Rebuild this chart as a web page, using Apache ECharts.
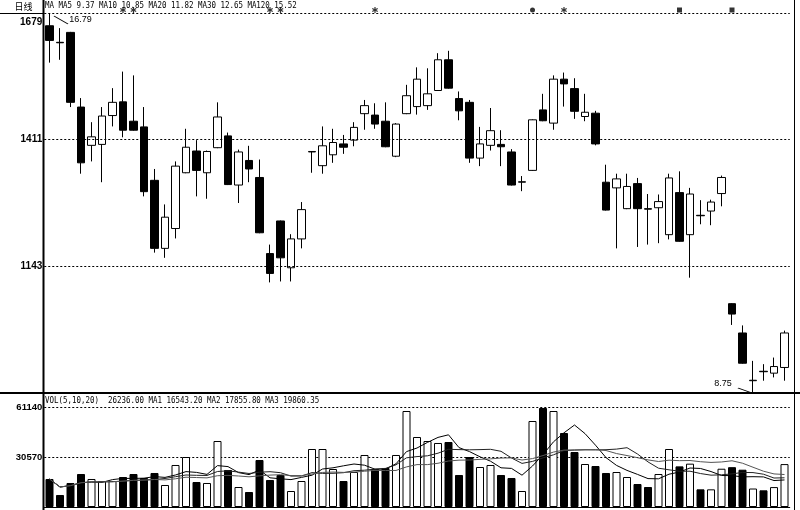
<!DOCTYPE html>
<html><head><meta charset="utf-8">
<script src="https://cdn.jsdelivr.net/npm/echarts/dist/echarts.min.js"></script>
<style>html,body{margin:0;padding:0;background:#fff}#c{width:800px;height:510px}</style>
</head><body><div id="c"></div>
<script>
// ---- data ----
const opens  = [16.52,16.17,16.38,14.80,13.99,14.01,14.62,14.91,14.50,14.38,13.25,11.81,12.23,13.41,13.87,13.41,13.94,14.19,13.15,13.67,13.31,11.70,12.39,11.40,12.01,13.85,13.56,13.79,14.02,14.10,14.66,14.63,14.50,13.76,14.66,14.81,14.83,15.15,15.80,14.98,14.90,13.72,13.99,14.01,13.85,13.21,13.46,14.74,14.46,15.39,15.19,14.60,14.67,13.21,13.09,12.65,13.18,12.65,12.67,12.10,12.99,12.10,12.51,12.60,12.97,10.64,10.02,9.01,9.21,9.17,9.29];
const closes = [16.21,16.16,14.90,13.62,14.17,14.61,14.90,14.31,14.31,13.01,11.81,12.47,13.55,13.95,13.46,13.86,14.59,13.16,13.85,13.49,12.14,11.28,11.61,12.01,12.63,13.86,13.98,14.05,13.95,14.37,14.83,14.44,13.96,14.44,15.04,15.39,15.08,15.80,15.20,14.72,13.72,14.02,14.30,13.96,13.15,13.22,14.53,14.51,15.39,15.29,14.71,14.69,14.02,12.62,13.28,13.12,12.65,12.64,12.80,13.30,11.96,12.96,12.50,12.79,13.31,10.42,9.38,9.02,9.20,9.31,10.02];
const lows   = [15.74,15.80,14.80,13.39,13.65,13.21,14.39,14.16,14.30,12.91,11.72,11.61,12.02,13.40,12.91,12.86,13.93,13.15,12.77,13.21,12.13,11.09,11.11,11.11,11.81,13.41,13.39,13.62,13.81,13.97,14.32,14.34,13.95,13.74,14.65,14.64,14.74,15.14,15.19,14.52,13.62,13.55,13.88,13.55,13.14,13.02,13.45,14.50,14.32,14.81,14.55,14.50,13.99,12.61,11.81,12.64,11.84,11.89,11.92,12.00,11.95,11.19,12.32,12.30,12.70,10.19,9.37,8.75,9.01,9.08,9.01];
const highs  = [16.79,16.47,16.39,14.99,14.48,14.80,15.20,15.55,15.47,14.80,13.49,12.74,13.65,14.34,14.10,13.88,14.90,14.26,13.90,13.98,13.69,11.89,12.40,12.11,12.79,13.87,14.39,14.34,14.21,14.48,14.95,14.88,14.90,14.46,15.27,15.64,15.62,15.94,15.99,15.13,14.95,14.38,14.78,14.31,13.91,13.34,14.54,15.08,15.47,15.53,15.41,15.08,14.72,13.58,13.39,13.39,13.30,12.96,12.95,13.39,13.44,13.09,12.83,12.84,13.35,10.65,10.18,9.43,9.36,9.50,10.07];
const volumes = [17120,7337,14674,20176,17120,15896,15896,18342,20176,17731,20788,13451,25679,30570,15285,14674,40352,22622,12228,9171,28736,16508,19565,9782,15896,35461,35461,23233,15896,21399,31793,23233,23845,31793,58694,42798,40352,39130,39741,19565,30570,24456,25679,19565,17731,9782,52580,60529,58694,45244,33627,26290,25067,20788,21399,18342,14062,12228,20176,35461,24836,26500,10800,10800,23400,24342,22800,11300,10200,12180,26236];
const priceTicks = [16.79, 14.11, 11.43];
const volTicks = [0, 30570, 61140];
const volMaPeriods = [5, 10, 20];
const markerIdx = [7, 8, 21, 22, 31, 46, 49, 60, 65];
const markerKinds = ['star','star','star','star','star','dot','star','box','box'];
const priceMaNames = ['MA5','MA10','MA20','MA30','MA120'];
const priceMaValues = ['9.37','10.85','11.82','12.65','15.52'];
const volHeaderValues = ['26236.00','16543.20','17855.80','19860.35'];
const days = opens.map((_, i) => String(i + 1));

// ---- build ----
const candleData = opens.map((o, i) => [o, closes[i], lows[i], highs[i]]);
const volData = volumes.map((v, i) => ({
  value: v,
  itemStyle: closes[i] >= opens[i] ? {color:'#fff', borderColor:'#000', borderWidth:1} : {color:'#000', borderColor:'#000', borderWidth:1}
}));
function movingAvg(arr, n) {
  return arr.map((_, i) => { const s = Math.max(0, i - n + 1); let t = 0; for (let k = s; k <= i; k++) t += arr[k]; return +(t / (i - s + 1)).toFixed(2); });
}
let iH = 0, iL = 0;
highs.forEach((h, i) => { if (h > highs[iH]) iH = i; });
lows.forEach((l, i) => { if (l < lows[iL]) iL = i; });

const starPath = 'path://M4 0h2v3.3l3-1.5 1 1.7-3 1.5 3 1.5-1 1.7-3-1.5V10H4V6.7l-3 1.5-1-1.7 3-1.5-3-1.5 1-1.7 3 1.5z';
const kindSym = {star: starPath, dot: 'circle', box: 'rect'};
const kindSize = {star: 6, dot: 5, box: 5};

const mono = '9px "DejaVu Sans Mono"';
const priceHeader = 'MA ' + priceMaNames.map((n, i) => n + ' ' + priceMaValues[i]).join(' ');
const volHeader = 'VOL(' + volMaPeriods.join(',') + ')  ' + volHeaderValues[0] + ' MA1 ' + volHeaderValues[1] + ' MA2 ' + volHeaderValues[2] + ' MA3 ' + volHeaderValues[3];

const GL = 44.25, GW = 745.5;
const chart = echarts.init(document.getElementById('c'), null, {renderer: 'canvas'});
chart.setOption({
  animation: false,
  backgroundColor: '#fff',
  grid: [
    {left: GL, width: GW, top: 13, height: 380},
    {left: GL, width: GW, top: 407, height: 100}
  ],
  xAxis: [
    {type: 'category', data: days, gridIndex: 0, show: false, boundaryGap: true},
    {type: 'category', data: days, gridIndex: 1, boundaryGap: true,
     axisLine: {show: true, lineStyle: {color: '#000', width: 1}}, axisTick: {show: false}, axisLabel: {show: false}}
  ],
  yAxis: [
    {type: 'value', gridIndex: 0, min: 8.75, max: 16.79, show: false, splitLine: {show: false}},
    {type: 'value', gridIndex: 1, min: volTicks[0], max: volTicks[2], interval: volTicks[1],
     axisLine: {show: false}, axisTick: {show: false},
     axisLabel: {color: '#000', fontWeight: 'bold', fontSize: 9.5, fontFamily: 'Liberation Sans', margin: 2,
                 formatter: v => v === 0 ? '' : String(v)},
     splitLine: {show: true, lineStyle: {color: '#000', type: [2, 2], width: 1}}}
  ],
  series: [
    {
      type: 'candlestick', xAxisIndex: 0, yAxisIndex: 0, data: candleData, barWidth: 8,
      itemStyle: {color: '#fff', color0: '#000', borderColor: '#000', borderColor0: '#000', borderWidth: 1},
      markLine: {
        silent: true, symbol: ['none', 'none'], animation: false,
        lineStyle: {color: '#000', type: [2, 2], width: 1},
        label: {position: 'start', distance: 2, color: '#000', fontWeight: 'bold', fontSize: 10, fontFamily: 'Liberation Sans',
                formatter: p => String(Math.round(p.value * 100))},
        data: priceTicks.map((v, i) => i === 0 ? {yAxis: v, label: {verticalAlign: 'top', padding: [4, 0, 0, 0]}} : {yAxis: v})
      },
      markPoint: {
        silent: true, animation: false,
        data: [
          {coord: [iH, highs[iH]], value: highs[iH], symbol: 'path://M0 0L14 8', symbolSize: [14, 8], symbolOffset: [11.5, 7],
           itemStyle: {color: 'none', borderColor: '#000', borderWidth: 1}, label: {show: false}},
          {coord: [iH, highs[iH]], value: highs[iH], symbol: 'circle', symbolSize: 1, itemStyle: {color: 'rgba(0,0,0,0)'},
           label: {show: true, position: 'inside', offset: [31, 7], color: '#000', fontSize: 9, fontFamily: 'Liberation Sans',
                   formatter: () => highs[iH].toFixed(2)}},
          {coord: [iL, lows[iL]], value: lows[iL], symbol: 'path://M0 0L14 5', symbolSize: [14, 5], symbolOffset: [-8, -2.5],
           itemStyle: {color: 'none', borderColor: '#000', borderWidth: 1}, label: {show: false}},
          {coord: [iL, lows[iL]], value: lows[iL], symbol: 'circle', symbolSize: 1, itemStyle: {color: 'rgba(0,0,0,0)'},
           label: {show: true, position: 'inside', offset: [-30, -9], color: '#000', fontSize: 9, fontFamily: 'Liberation Sans',
                   formatter: () => lows[iL].toFixed(2)}}
        ]
      }
    },
    {
      type: 'scatter', xAxisIndex: 0, yAxisIndex: 0, silent: true, clip: false,
      data: markerIdx.map((ix, k) => ({value: [ix, 16.79], symbol: kindSym[markerKinds[k]], symbolSize: kindSize[markerKinds[k]]})),
      symbolOffset: [0, -3], itemStyle: {color: '#000'}
    },
    {
      type: 'bar', xAxisIndex: 1, yAxisIndex: 1, data: volData, barWidth: 8
    },
    ...volMaPeriods.map((n, k) => ({
      type: 'line', xAxisIndex: 1, yAxisIndex: 1, data: movingAvg(volumes, n), symbol: 'none', silent: true,
      lineStyle: {color: ['#000', '#222', '#555'][k], width: 1}
    }))
  ],
  graphic: [
    {type: 'line', z: 100, shape: {x1: 43.5, y1: 0, x2: 43.5, y2: 510}, style: {stroke: '#000', lineWidth: 2}},
    {type: 'line', z: 100, shape: {x1: 0, y1: 13.5, x2: 43, y2: 13.5}, style: {stroke: '#000', lineWidth: 1}},
    {type: 'line', z: 100, shape: {x1: 0, y1: 393, x2: 800, y2: 393}, style: {stroke: '#000', lineWidth: 2}},
    {type: 'line', z: 100, shape: {x1: 794.5, y1: 0, x2: 794.5, y2: 510}, style: {stroke: '#000', lineWidth: 1}},
    {type: 'text', z: 100, x: 23.5, y: 7, style: {text: '日线', font: '9px "Noto Sans CJK SC"', fill: '#000', textAlign: 'center', textVerticalAlign: 'middle'}},
    {type: 'text', z: 100, x: 45, y: 5.5, scaleX: 0.83, style: {text: priceHeader, font: mono, fill: '#000', textAlign: 'left', textVerticalAlign: 'middle'}},
    {type: 'text', z: 100, x: 45, y: 400.5, scaleX: 0.83, style: {text: volHeader, font: mono, fill: '#000', textAlign: 'left', textVerticalAlign: 'middle'}}
  ]
});
</script>
</body></html>
